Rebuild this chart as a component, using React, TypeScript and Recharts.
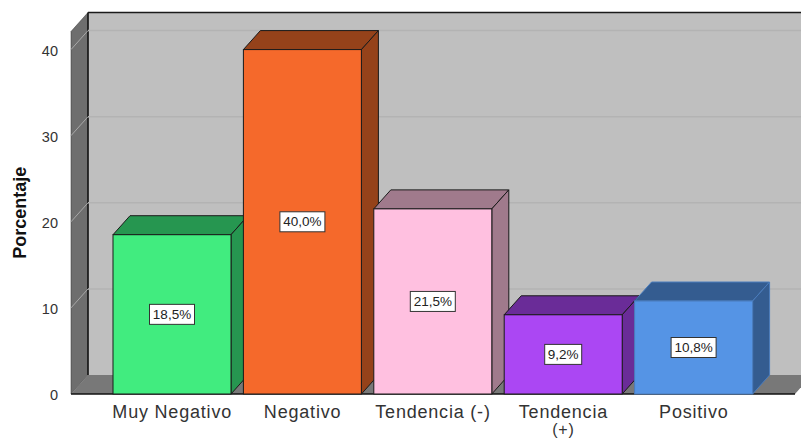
import { BarChart, Bar, XAxis, YAxis, ReferenceArea, LabelList } from "recharts";

const categories = ["Muy Negativo", "Negativo", "Tendencia (-)", "Tendencia\n(+)", "Positivo"];
const porcentaje = [18.5, 40.0, 21.5, 9.2, 10.8];
const yTicks = [0, 10, 20, 30, 40];
const yMax = 42.1;

const frontColors = ["#41EC7F", "#F5692B", "#FFC0E0", "#AB47F3", "#5594E5"];
const depthColors = ["#269650", "#95421A", "#A07A8C", "#6A2C98", "#345C90"];
const edgeColors = ["#1a1a1a", "#1a1a1a", "#1a1a1a", "#1a1a1a", "#4a7cbc"];

const data = categories.map((name, i) => ({ name, value: porcentaje[i] }));

// offset of the fake 3D depth
const DX = 17;
const DY = 19;
const PAD = 36;
const FONT = "'Liberation Sans', Arial, sans-serif";

// the reference area only spans the padded band range, so widen it by the axis padding
function Walls({ x: bandX, y, width: bandW, height }: any) {
  const x = bandX - PAD;
  const width = bandW + PAD * 2;
  const bottom = y + height;
  const right = x + width;
  return (
    <g>
      <rect x={x + DX} y={y - DY} width={width} height={height} fill="#BFBFBF" />
      <line x1={x + DX} y1={y - DY} x2={right + DX} y2={y - DY} stroke="#1a1a1a" strokeWidth={1.5} />
      <polygon
        points={`${x},${y} ${x + DX},${y - DY} ${x + DX},${bottom - DY} ${x},${bottom}`}
        fill="#6E6E6E"
        stroke="#333"
        strokeWidth={0.5}
      />
      <polygon
        points={`${x},${bottom} ${x + DX},${bottom - DY} ${right + DX},${bottom - DY} ${right},${bottom}`}
        fill="#787878"
      />
      <line x1={x + DX} y1={y - DY} x2={x + DX} y2={bottom - DY} stroke="#111" strokeWidth={1.5} />
      <line x1={x} y1={bottom} x2={right} y2={bottom} stroke="#111" strokeWidth={1.5} />
    </g>
  );
}

// drawn as an area from 0 up to the tick so it stays behind the bars; only its top edge is used
function GridLine({ x: bandX, y, width: bandW }: any) {
  const x = bandX - PAD;
  const right = bandX + bandW + PAD;
  return (
    <g>
      <line x1={x} y1={y} x2={x + DX} y2={y - DY} stroke="#A8A8A8" strokeWidth={1} />
      <line x1={x + DX} y1={y - DY} x2={right + DX} y2={y - DY} stroke="#B3B3B3" strokeWidth={1.5} />
    </g>
  );
}

function Box3D({ x, y, width, height, index }: any) {
  const top = `${x},${y} ${x + DX},${y - DY} ${x + width + DX},${y - DY} ${x + width},${y}`;
  const side = `${x + width},${y} ${x + width + DX},${y - DY} ${x + width + DX},${y + height - DY} ${x + width},${y + height}`;
  return (
    <g stroke={edgeColors[index]} strokeWidth={1}>
      <polygon points={top} fill={depthColors[index]} />
      <polygon points={side} fill={depthColors[index]} />
      <rect x={x} y={y} width={width} height={height} fill={frontColors[index]} />
    </g>
  );
}

function ValueLabel({ x, y, width, height, value }: any) {
  const cx = x + width / 2;
  const cy = y + height / 2;
  const text = Number(value).toFixed(1).replace(".", ",") + "%";
  const w = text.length > 4 ? 45 : 37;
  return (
    <g>
      <rect x={cx - w / 2} y={cy - 10} width={w} height={20} fill="#fff" stroke="#333" strokeWidth={1} />
      <text x={cx} y={cy + 4.5} textAnchor="middle" fontSize={13.5} fontFamily={FONT} fill="#222">
        {text}
      </text>
    </g>
  );
}

function CategoryTick({ x, y, payload }: any) {
  const lines = String(payload.value).split("\n");
  return (
    <text x={x} y={y} textAnchor="middle" fontSize={18} fontFamily={FONT} fill="#333" letterSpacing={0.8}>
      {lines.map((line, i) => (
        <tspan key={line} x={x} dy={i === 0 ? 16 : 17} fontSize={i === 0 ? 18 : 16}>
          {line}
        </tspan>
      ))}
    </text>
  );
}

export default function App() {
  return (
    <div style={{ position: "absolute", left: 0, top: 0, width: 801, height: 439, background: "#fff" }}>
      <BarChart
        width={801}
        height={439}
        data={data}
        margin={{ top: 31.5, right: 6, bottom: 0, left: 0 }}
        barSize={118}
      >
        <XAxis
          dataKey="name"
          height={45}
          axisLine={false}
          tickLine={false}
          padding={{ left: PAD, right: PAD }}
          interval={0}
          tick={<CategoryTick />}
        />
        <YAxis
          width={71}
          domain={[0, yMax]}
          ticks={yTicks}
          axisLine={false}
          tickLine={false}
          tickMargin={7}
          tick={{ fontSize: 14.5, fontFamily: FONT, fill: "#333", dy: 1 }}
          label={{
            value: "Porcentaje",
            angle: -90,
            position: "insideLeft",
            offset: 20,
            style: { fontSize: 18, fontWeight: 700, fontFamily: FONT, fill: "#111", textAnchor: "middle" },
          }}
        />
        <ReferenceArea y1={0} y2={yMax} ifOverflow="visible" shape={<Walls />} />
        {yTicks.slice(1).map((t) => (
          <ReferenceArea key={t} y1={0} y2={t} ifOverflow="visible" shape={<GridLine />} />
        ))}
        <Bar dataKey="value" isAnimationActive={false} shape={<Box3D />}>
          <LabelList dataKey="value" content={<ValueLabel />} />
        </Bar>
      </BarChart>
    </div>
  );
}
